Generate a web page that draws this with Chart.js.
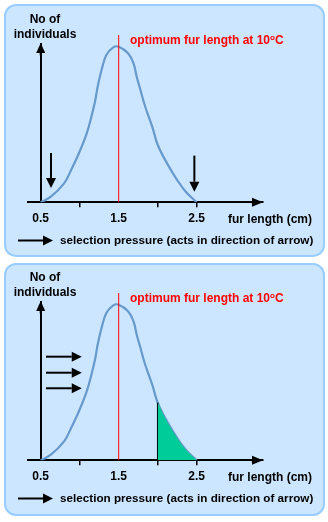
<!DOCTYPE html>
<html>
<head>
<meta charset="utf-8">
<script src="https://cdn.jsdelivr.net/npm/chart.js@4.4.0/dist/chart.umd.min.js"></script>
<style>
  body { margin: 0; background: #fff; font-family: "Liberation Sans", Arial, sans-serif; font-weight: bold; }
  .panel { position: absolute; left: 0; width: 328px; height: 258px; }
  .box { position: absolute; left: 4px; top: 4px; width: 317px; height: 249px;
         border: 2px solid #99ccff; border-radius: 12px; background: #cce6ff; }
  canvas { position: absolute; left: 0; top: 0; }
  .lbl { position: absolute; font-size: 12px; line-height: 14px; white-space: nowrap; color: #000; }
  .ylbl { left: 12px; top: 12px; width: 66px; text-align: center; line-height: 15px; }
  .opt { left: 130px; top: 33px; color: #ff0000; }
  .opt sup { font-size: 8px; vertical-align: 4px; line-height: 0; }
  .xlbl { left: 228px; top: 212px; }
  .key { left: 60px; top: 233px; font-size: 11.7px; }
</style>
</head>
<body>

<div class="panel" style="top:0">
  <div class="box"></div>
  <canvas id="chart-top" width="328" height="258"></canvas>
  <div class="lbl ylbl">No of<br>individuals</div>
  <div class="lbl opt">optimum fur length at 10<sup>o</sup>C</div>
  <div class="lbl xlbl">fur length (cm)</div>
  <div class="lbl key">selection pressure (acts in direction of arrow)</div>
</div>

<div class="panel" style="top:258px; height:264px">
  <div class="box" style="top:5px"></div>
  <canvas id="chart-bottom" width="328" height="258"></canvas>
  <div class="lbl ylbl">No of<br>individuals</div>
  <div class="lbl opt">optimum fur length at 10<sup>o</sup>C</div>
  <div class="lbl xlbl">fur length (cm)</div>
  <div class="lbl key">selection pressure (acts in direction of arrow)</div>
</div>

<script>
// curve (peak = 100)
const furLength   = [0.5, 0.63, 0.8, 0.88, 0.99, 1.09, 1.15, 1.2, 1.23, 1.28, 1.34, 1.43, 1.5,
                     1.62, 1.69, 1.73, 1.78, 1.84, 1.93, 2.0, 2.12, 2.25, 2.36, 2.5];
const individuals = [0, 3.6, 12.2, 19.7, 31.5, 44.3, 55, 65.6, 74.3, 85, 94.5, 99.6, 100,
                     95.8, 89.3, 80.9, 72, 61.4, 48.6, 37, 25, 14.3, 6.8, 0];

const tickValues = [0.5, 1, 1.5, 2, 2.5];
const tickLabels = ["0.5", "", "1.5", "", "2.5"];

const optimumLength = 1.5;
const optimumLineTop = 107.5;
const cutoffLength = 2.0;

// selection pressure arrows, in data units
const stabilisingArrows = [
  { x1: 0.632, y1: 31.7, x2: 0.632, y2: 9.2 },
  { x1: 2.47, y1: 30, x2: 2.47, y2: 6.8 },
];
const directionalArrows = [
  { x1: 0.568, y1: 66.6, x2: 1.026, y2: 66.6 },
  { x1: 0.568, y1: 56.3, x2: 1.026, y2: 56.3 },
  { x1: 0.568, y1: 46.3, x2: 1.026, y2: 46.3 },
];

const FONT = '"Liberation Sans", Arial, sans-serif';

function drawArrow(ctx, x1, y1, x2, y2, head = 10, half = 5, width = 2) {
  const ang = Math.atan2(y2 - y1, x2 - x1);
  const bx = x2 - head * Math.cos(ang);
  const by = y2 - head * Math.sin(ang);
  ctx.save();
  ctx.strokeStyle = "#000";
  ctx.fillStyle = "#000";
  ctx.lineWidth = width;
  ctx.beginPath();
  ctx.moveTo(x1, y1);
  ctx.lineTo(bx, by);
  ctx.stroke();
  ctx.beginPath();
  ctx.moveTo(x2, y2);
  ctx.lineTo(bx + half * Math.sin(ang), by - half * Math.cos(ang));
  ctx.lineTo(bx - half * Math.sin(ang), by + half * Math.cos(ang));
  ctx.closePath();
  ctx.fill();
  ctx.restore();
}

function arrowsPlugin(arrows) {
  return {
    id: "arrows",
    afterDatasetsDraw(chart) {
      const { ctx, chartArea, scales } = chart;
      const x = scales.x, y = scales.y;
      const x0 = x.getPixelForValue(0.5);
      const y0 = y.getPixelForValue(0);
      // axis heads
      drawArrow(ctx, x0, chartArea.top + 12, x0, chartArea.top - 0.6, 10, 4.5, 2);
      drawArrow(ctx, chartArea.right - 12, y0, chartArea.right, y0, 11, 4.5, 2);
      arrows.forEach((a) => {
        drawArrow(ctx, x.getPixelForValue(a.x1), y.getPixelForValue(a.y1),
                  x.getPixelForValue(a.x2), y.getPixelForValue(a.y2), 10, 5, 2);
      });
      // key arrow
      drawArrow(ctx, 18, 240.5, 53, 240.5, 10, 5, 2);
    },
  };
}

function makeChart(id, arrows, showTail) {
  const datasets = [];
  if (showTail) {
    const tailX = furLength.filter((v) => v >= cutoffLength);
    const tailY = individuals.filter((_, i) => furLength[i] >= cutoffLength);
    datasets.push({
      data: tailX.map((v, i) => ({ x: v, y: tailY[i] })),
      backgroundColor: "#00cc99",
      borderWidth: 0,
      fill: "origin",
      pointRadius: 0,
      tension: 0.4,
    });
    datasets.push({
      data: [{ x: cutoffLength, y: 0 }, { x: cutoffLength, y: tailY[0] }],
      borderColor: "#000",
      borderWidth: 1.5,
      pointRadius: 0,
    });
  }
  datasets.push({
    data: [{ x: optimumLength, y: 0 }, { x: optimumLength, y: optimumLineTop }],
    borderColor: "#ff0000",
    borderWidth: 1,
    pointRadius: 0,
    clip: false,
  });
  datasets.push({
    data: furLength.map((v, i) => ({ x: v, y: individuals[i] })),
    borderColor: "#6699cc",
    borderWidth: 2.2,
    pointRadius: 0,
    tension: 0.4,
  });

  return new Chart(document.getElementById(id), {
    type: "line",
    data: { datasets },
    options: {
      responsive: false,
      animation: false,
      events: [],
      layout: { padding: { left: 28, right: 65, top: 43.6, bottom: 0 } },
      plugins: { legend: { display: false }, tooltip: { enabled: false } },
      scales: {
        x: {
          type: "linear",
          min: 0.5 - 12.7 / 78,
          max: 0.5 + 222.3 / 78,
          afterBuildTicks: (s) => { s.ticks = tickValues.map((v) => ({ value: v })); },
          afterFit: (s) => { s.height = 55.7; },
          ticks: {
            callback: (v, i) => tickLabels[i],
            color: "#000",
            padding: 4,
            maxRotation: 0,
            autoSkip: false,
            font: { family: FONT, size: 12, weight: "bold" },
          },
          grid: {
            drawOnChartArea: false,
            tickLength: 5,
            lineWidth: 1.5,
            color: (c) => (c.tick && (c.tick.value === 0.5 || c.tick.value === 1.5) ? "rgba(0,0,0,0)" : "#000"),
          },
          border: { color: "#000", width: 2 },
        },
        y: {
          min: 0,
          max: 102,
          position: { x: 0.5 },
          ticks: { display: false },
          grid: { display: false },
          border: { color: "#000", width: 2 },
        },
      },
    },
    plugins: [arrowsPlugin(arrows)],
  });
}

makeChart("chart-top", stabilisingArrows, false);
makeChart("chart-bottom", directionalArrows, true);
</script>
</body>
</html>
